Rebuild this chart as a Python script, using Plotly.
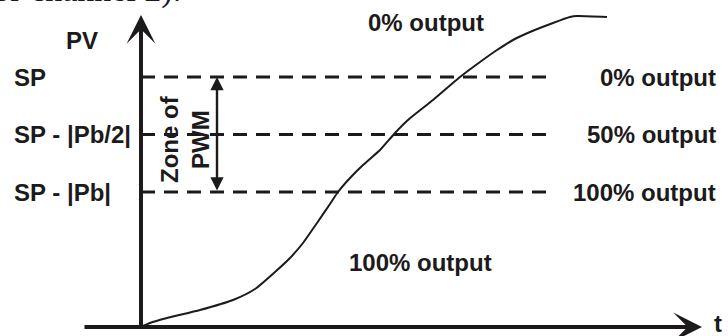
import plotly.graph_objects as go

# ---- data (t in arbitrary units, PV in % of SP) ----
SP = 100.0
PB = 46.0
levels = [SP, SP - PB / 2, SP - PB]
level_labels = ["SP", "SP - |Pb/2|", "SP - |Pb|"]
output_labels = ["0% output", "50% output", "100% output"]

curve_t = [0, 3.6, 10.4, 23.6, 36.8, 45.6, 53.6, 59.6, 64.8, 70.4, 75.6, 78.8, 83.6,
           88.8, 95.6, 101.6, 106.8, 116.8, 127.6, 135.6, 142.4, 148.8, 155.6, 164.8,
           171.6, 174.4, 186.4]
curve_pv = [0, 1.6, 3.6, 6.8, 10.8, 15.2, 22, 27.6, 33.6, 41.6, 49.2, 54, 59.6,
            64.8, 70.8, 77.6, 82.8, 90.8, 100, 106, 110.8, 114.8, 118, 121.6,
            124, 124.4, 124]

# ---- layout constants ----
W, H = 728, 336
X_RANGE = [-56.4, 234.8]
Y_RANGE = [-3.6, 130.8]
T_AXIS_START, T_AXIS_END = -23.2, 224.4
PV_AXIS_END = 124.8
DASH_END = 163.6
PWM_T = 30.4

INK = "#1c1a1b"
FONT = "Liberation Sans, Arial, sans-serif"
BOLD = dict(family=FONT, size=24, color=INK, weight="bold")

fig = go.Figure()

# dashed level lines
for lv in levels:
    fig.add_trace(go.Scatter(x=[0, DASH_END], y=[lv, lv], mode="lines",
                             line=dict(color=INK, width=3.2, dash="14px,9px"),
                             hoverinfo="skip", showlegend=False))

# PV curve
fig.add_trace(go.Scatter(x=curve_t, y=curve_pv, mode="lines",
                         line=dict(color=INK, width=2, shape="spline", smoothing=0.6),
                         hoverinfo="skip", showlegend=False))

ann = []
# axes arrows
ann.append(dict(x=0, y=PV_AXIS_END, ax=0, ay=0, xref="x", yref="y", axref="x", ayref="y",
                showarrow=True, arrowhead=3, arrowsize=1.2, arrowwidth=4, arrowcolor=INK, text=""))
ann.append(dict(x=T_AXIS_END, y=0, ax=T_AXIS_START, ay=0, xref="x", yref="y", axref="x", ayref="y",
                showarrow=True, arrowhead=3, arrowsize=1.2, arrowwidth=4, arrowcolor=INK, text=""))
# double arrow (zone of PWM)
ann.append(dict(x=PWM_T, y=levels[0], ax=PWM_T, ay=levels[2], xref="x", yref="y", axref="x", ayref="y",
                showarrow=True, arrowhead=2, startarrowhead=2, arrowside="end+start",
                arrowsize=1.1, startarrowsize=1.1, arrowwidth=2.4, arrowcolor=INK, text=""))

# left labels
ann.append(dict(x=-23.6, y=114.8, xref="x", yref="y", text="PV", showarrow=False,
                xanchor="center", yanchor="middle", font=BOLD))
for lv, lab in zip(levels, level_labels):
    ann.append(dict(x=-51.6, y=lv, xref="x", yref="y", text=lab, showarrow=False,
                    xanchor="left", yanchor="middle", font=BOLD))
# right labels
for lv, lab in zip(levels, output_labels):
    ann.append(dict(x=230.8, y=lv, xref="x", yref="y", text=lab, showarrow=False,
                    xanchor="right", yanchor="middle", font=BOLD))
# region labels
ann.append(dict(x=90, y=122, xref="x", yref="y", text="0% output", showarrow=False,
                xanchor="left", yanchor="middle", font=BOLD))
ann.append(dict(x=82.4, y=26, xref="x", yref="y", text="100% output", showarrow=False,
                xanchor="left", yanchor="middle", font=BOLD))
ann.append(dict(x=230.8, y=1.6, xref="x", yref="y", text="t", showarrow=False,
                xanchor="center", yanchor="middle", font=BOLD))
ann.append(dict(x=17.6, y=75.2, xref="x", yref="y", text="Zone of<br>PWM", showarrow=False,
                textangle=-90, xanchor="center", yanchor="middle", font=BOLD))
# cut-off caption at top
ann.append(dict(x=183 / W, y=1 + 10 / H, xref="paper", yref="paper", text="for channel 2).",
                showarrow=False, xanchor="right", yanchor="middle",
                font=dict(family="Liberation Serif, Times New Roman, serif", size=34, color=INK)))

fig.update_layout(
    width=W, height=H, margin=dict(l=0, r=0, t=0, b=0),
    paper_bgcolor="white", plot_bgcolor="white",
    xaxis=dict(range=X_RANGE, visible=False, fixedrange=True),
    yaxis=dict(range=Y_RANGE, visible=False, fixedrange=True),
    annotations=ann, showlegend=False,
)

fig.write_html("out.html", config={"displayModeBar": False, "staticPlot": True},
               post_script="document.body.style.margin='0';")
